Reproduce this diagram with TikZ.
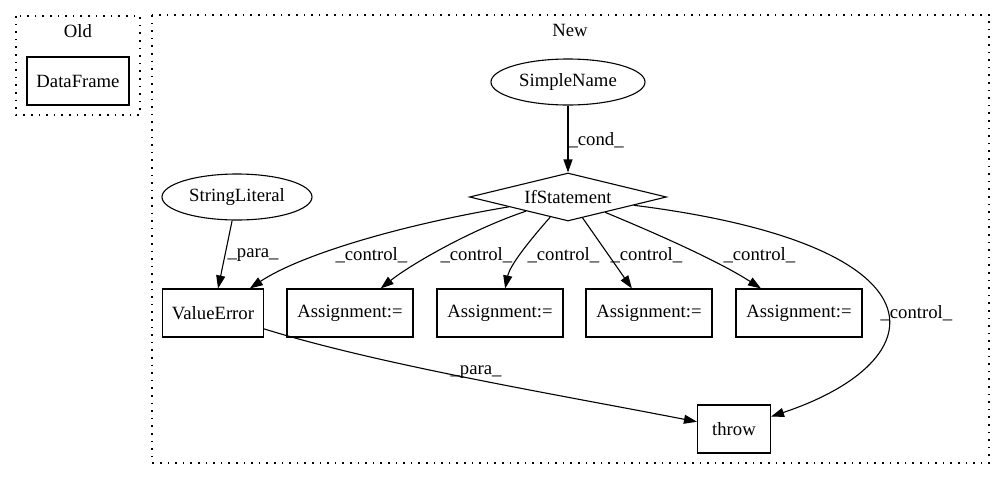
\documentclass[tikz,border=0pt]{standalone}
\usepackage{fontspec}
\setmainfont{Liberation Serif}
\usetikzlibrary{shapes.geometric,arrows.meta}
\begin{document}
\begin{tikzpicture}[x=1pt,y=-1pt,line width=1.1pt,
	every node/.style={font=\fontsize{18.7}{22}\selectfont},
	box/.style={draw,rectangle,minimum height=48,inner sep=0pt},
	ell/.style={draw,ellipse,minimum height=46,inner sep=0pt},
	cond/.style={draw,diamond,aspect=4,minimum width=197,minimum height=48,inner sep=0pt},
	clus/.style={dash pattern=on 1.6pt off 6pt},
	lbl/.style={anchor=west,inner sep=0pt},
	edge/.style={-{Triangle[length=13pt,width=9pt]}}]
					\useasboundingbox (0,0) rectangle (1005,480);
					\draw[clus] (16,16) rectangle (140,115);
					\draw[clus] (152,15) rectangle (989,463);
					\node (Old) at (78,31) {Old};
					\node (New) at (570,30) {New};
					\node[box,minimum width=102] (DF) at (78,81) {DataFrame};
					\node[ell,minimum width=154] (SN) at (568,82) {SimpleName};
					\node[cond] (IF) at (568,197) {IfStatement};
					\node[ell,minimum width=150] (SL) at (237,197) {StringLiteral};
					\node[box,minimum width=101] (VE) at (213,313) {ValueError};
					\node[box,minimum width=126] (A1) at (350,313) {Assignment:=};
					\node[box,minimum width=126] (A2) at (500,313) {Assignment:=};
					\node[box,minimum width=126] (A3) at (649,313) {Assignment:=};
					\node[box,minimum width=126] (A4) at (799,313) {Assignment:=};
					\node[box,minimum width=73] (T) at (734,429) {throw};
					\draw[edge] (SN) -- (IF);
					\draw[edge] (SL) -- (VE);
					\draw[edge] (IF) .. controls (400,225) and (300,255) .. (VE);
					\draw[edge] (IF) .. controls (470,230) and (410,265) .. (A1);
					\draw[edge] (IF) .. controls (530,240) and (510,265) .. (A2);
					\draw[edge] (IF) -- (A3);
					\draw[edge] (IF) .. controls (660,235) and (720,262) .. (A4);
					\draw[edge] (IF) .. controls (950,245) and (940,360) .. (T);
					\draw[edge] (VE) .. controls (380,365) and (560,395) .. (T);
					\node[lbl] (l1) at (568,140) {\_cond\_};
					\node[lbl] (l2) at (227,255) {\_para\_};
					\node[lbl] (l3) at (335,255) {\_control\_};
					\node[lbl] (l4) at (440,255) {\_control\_};
					\node[lbl] (l5) at (527,255) {\_control\_};
					\node[lbl] (l6) at (610,255) {\_control\_};
					\node[lbl] (l7) at (723,255) {\_control\_};
					\node[lbl] (l8) at (880,313) {\_control\_};
					\node[lbl] (l9) at (450,372) {\_para\_};
			\end{tikzpicture}
\end{document}
